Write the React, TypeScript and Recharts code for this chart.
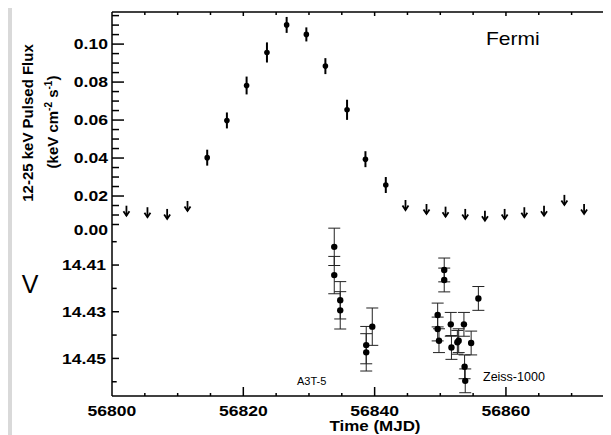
import React from 'react';
import { ScatterChart, Scatter, XAxis, YAxis, ErrorBar } from 'recharts';

// ---- Fermi 12-25 keV pulsed flux ----
const fermiDetMjd = [56814.5, 56817.5, 56820.5, 56823.6, 56826.6, 56829.6, 56832.5, 56835.8, 56838.6, 56841.7];
const fermiDetFlux = [0.0402, 0.0598, 0.0782, 0.0956, 0.1101, 0.1051, 0.0884, 0.0654, 0.0394, 0.0258];
const fermiDetErr = [0.0042, 0.0042, 0.0047, 0.0053, 0.0042, 0.0037, 0.0042, 0.0053, 0.0042, 0.0042];

const fermiUlMjd = [56802.2, 56805.4, 56808.4, 56811.5, 56844.7, 56847.9, 56850.8, 56853.8, 56856.8, 56859.8, 56862.8, 56865.8, 56868.9, 56871.9];
const fermiUlFlux = [0.0149, 0.0141, 0.0132, 0.0174, 0.0179, 0.0158, 0.0144, 0.0132, 0.0123, 0.0132, 0.0141, 0.0149, 0.0206, 0.0158];

// ---- Optical V magnitudes ----
const a3tMjd = [56833.85, 56833.85, 56834.76, 56834.76, 56838.72, 56838.72, 56839.64];
const a3tMag = [14.4022, 14.4143, 14.4251, 14.4294, 14.4443, 14.4474, 14.4364];
const a3tErr = [0.008, 0.008, 0.008, 0.008, 0.008, 0.008, 0.008];

const zeissMjd = [56849.6, 56849.6, 56849.8, 56850.6, 56850.6, 56851.6, 56851.7, 56852.6, 56852.8, 56853.6, 56853.7, 56853.8, 56854.7, 56855.8];
const zeissMag = [14.4314, 14.4374, 14.4424, 14.4121, 14.4164, 14.4354, 14.4453, 14.4431, 14.4424, 14.4354, 14.4536, 14.4596, 14.4434, 14.4243];
const zeissErr = [0.0051, 0.0051, 0.0051, 0.0051, 0.0051, 0.0051, 0.0051, 0.0051, 0.0051, 0.0051, 0.0051, 0.0051, 0.0051, 0.0051];

// ---- ticks ----
const timeTicks = [56800, 56805, 56810, 56815, 56820, 56825, 56830, 56835, 56840, 56845, 56850, 56855, 56860, 56865, 56870, 56875];
const fluxTicks = [0, 0.005, 0.01, 0.015, 0.02, 0.025, 0.03, 0.035, 0.04, 0.045, 0.05, 0.055, 0.06, 0.065, 0.07, 0.075, 0.08, 0.085, 0.09, 0.095, 0.1, 0.105, 0.11, 0.115];
const magTicks = [14.40, 14.41, 14.42, 14.43, 14.44, 14.45, 14.46];

const X_DOMAIN: [number, number] = [56800, 56876];
const FLUX_DOMAIN: [number, number] = [0, 0.1169];
const MAG_DOMAIN: [number, number] = [14.3967, 14.4661];

const FONT = '"Liberation Sans", Arial, Helvetica, sans-serif';
const SX = 1.17;

const fermiDet = fermiDetMjd.map((x, i) => ({ x, y: fermiDetFlux[i], err: fermiDetErr[i] }));
const fermiUl = fermiUlMjd.map((x, i) => ({ x, y: fermiUlFlux[i] }));
const a3t = a3tMjd.map((x, i) => ({ x, y: a3tMag[i], err: a3tErr[i] }));
const zeiss = zeissMjd.map((x, i) => ({ x, y: zeissMag[i], err: zeissErr[i] }));

const isFluxMajor = (v: number) => Math.abs(v * 50 - Math.round(v * 50)) < 1e-6;
const isMagMajor = (v: number) => Math.round(v * 100) % 2 === 1;
const isTimeMajor = (v: number) => (v - 56800) % 20 === 0;

const FluxLeftTick = (p: any) => {
  const { x, y, payload } = p;
  const v = payload.value;
  const major = isFluxMajor(v);
  return (
    <g>
      {v > 0 && <line x1={x} x2={x + (major ? 12 : 7)} y1={y} y2={y} stroke="#000" strokeWidth={1.5} />}
      {major && (
        <text transform={`translate(${x - 4},${y + (v === 0 ? 1 : 5.3)}) scale(${SX},1)`} textAnchor="end"
          fontFamily={FONT} fontWeight="bold" fontSize={15} fill="#000">{v.toFixed(2)}</text>
      )}
    </g>
  );
};

const FluxRightTick = (p: any) => {
  const { x, y, payload } = p;
  const v = payload.value;
  if (v <= 0) return <g />;
  const major = isFluxMajor(v);
  return <line x1={x} x2={x - (major ? 12 : 5)} y1={y} y2={y} stroke="#000" strokeWidth={1.5} />;
};

const MagLeftTick = (p: any) => {
  const { x, y, payload } = p;
  const v = payload.value;
  const major = isMagMajor(v);
  return (
    <g>
      <line x1={x} x2={x + (major ? 7 : 4.7)} y1={y} y2={y} stroke="#000" strokeWidth={1.5} />
      {major && (
        <text transform={`translate(${x - 6},${y + 5.3}) scale(${SX},1)`} textAnchor="end"
          fontFamily={FONT} fontWeight="bold" fontSize={15} fill="#000">{v.toFixed(2)}</text>
      )}
    </g>
  );
};

const MagRightTick = (p: any) => {
  const { x, y } = p;
  return <line x1={x} x2={x - 5} y1={y} y2={y} stroke="#000" strokeWidth={1.5} />;
};

const TopTimeTick = (p: any) => {
  const { x, y, payload } = p;
  const v = payload.value;
  if (v === 56800) return <g />;
  return <line x1={x} x2={x} y1={y} y2={y + (isTimeMajor(v) ? 4 : 3)} stroke="#000" strokeWidth={1.5} />;
};

const BottomTimeTick = (p: any) => {
  const { x, y, payload } = p;
  const v = payload.value;
  const major = isTimeMajor(v);
  return (
    <g>
      {v !== 56800 && <line x1={x} x2={x} y1={y} y2={y - (major ? 9 : 3)} stroke="#000" strokeWidth={1.5} />}
      {major && (
        <text transform={`translate(${x},${y + 20}) scale(${SX},1)`} textAnchor="middle"
          fontFamily={FONT} fontWeight="bold" fontSize={15} fill="#000">{v}</text>
      )}
    </g>
  );
};

const FluxDot = (p: any) => <circle cx={p.cx} cy={p.cy} r={2.8} fill="#000" />;
const MagDot = (p: any) => <circle cx={p.cx} cy={p.cy} r={3.2} fill="#000" />;
const ArrowShape = (p: any) => {
  const { cx, cy } = p;
  return (
    <g stroke="#000" strokeWidth={1.8} fill="none">
      <line x1={cx} y1={cy} x2={cx} y2={cy + 10} />
      <polyline points={`${cx - 3},${cy + 5.5} ${cx},${cy + 10} ${cx + 3},${cy + 5.5}`} />
    </g>
  );
};

const axisLine = { stroke: '#000', strokeWidth: 1.5 };

export default function App() {
  return (
    <div style={{ position: 'relative', width: 611, height: 435, marginLeft: -8, marginTop: -8, overflow: 'hidden', background: '#d9d9d9' }}>
      <div style={{ position: 'absolute', left: 12, top: 5, right: 0, bottom: 0, background: '#fff' }} />
      <div style={{ position: 'absolute', left: 0, top: 0 }}>
        <ScatterChart width={611} height={435} margin={{ top: 0, right: 0, bottom: 201, left: 0 }}>
          <XAxis xAxisId="t" orientation="top" type="number" dataKey="x" domain={X_DOMAIN} allowDataOverflow
            ticks={timeTicks} interval={0} height={12} tickSize={0} tickMargin={0} tickLine={false}
            axisLine={axisLine} tick={TopTimeTick} />
          <YAxis yAxisId="l" type="number" dataKey="y" domain={FLUX_DOMAIN} allowDataOverflow
            ticks={fluxTicks} interval={0} width={112} tickSize={0} tickMargin={0} tickLine={false}
            axisLine={axisLine} tick={FluxLeftTick} />
          <YAxis yAxisId="r" orientation="right" type="number" dataKey="y" domain={FLUX_DOMAIN} allowDataOverflow
            ticks={fluxTicks} interval={0} width={0} tickSize={0} tickMargin={0} tickLine={false}
            axisLine={false} tick={FluxRightTick} />
          <Scatter xAxisId="t" yAxisId="l" data={fermiDet} shape={FluxDot} isAnimationActive={false}>
            <ErrorBar dataKey="err" direction="y" width={0} strokeWidth={2} stroke="#000" />
          </Scatter>
          <Scatter xAxisId="t" yAxisId="l" data={fermiUl} shape={ArrowShape} isAnimationActive={false} />
        </ScatterChart>
      </div>
      <div style={{ position: 'absolute', left: 0, top: 0 }}>
        <ScatterChart width={611} height={435} margin={{ top: 234, right: 0, bottom: 0, left: 0 }}>
          <XAxis xAxisId="b" orientation="bottom" type="number" dataKey="x" domain={X_DOMAIN} allowDataOverflow
            ticks={timeTicks} interval={0} height={39} tickSize={0} tickMargin={0} tickLine={false}
            axisLine={axisLine} tick={BottomTimeTick} />
          <YAxis yAxisId="l" type="number" dataKey="y" domain={MAG_DOMAIN} reversed allowDataOverflow
            ticks={magTicks} interval={0} width={112} tickSize={0} tickMargin={0} tickLine={false}
            axisLine={axisLine} tick={MagLeftTick} />
          <YAxis yAxisId="r" orientation="right" type="number" dataKey="y" domain={MAG_DOMAIN} reversed allowDataOverflow
            ticks={magTicks} interval={0} width={0} tickSize={0} tickMargin={0} tickLine={false}
            axisLine={false} tick={MagRightTick} />
          <Scatter xAxisId="b" yAxisId="l" data={a3t} shape={MagDot} isAnimationActive={false}>
            <ErrorBar dataKey="err" direction="y" width={6} strokeWidth={1} stroke="#222" />
          </Scatter>
          <Scatter xAxisId="b" yAxisId="l" data={zeiss} shape={MagDot} isAnimationActive={false}>
            <ErrorBar dataKey="err" direction="y" width={6} strokeWidth={1} stroke="#222" />
          </Scatter>
        </ScatterChart>
      </div>
      <svg width={611} height={435} style={{ position: 'absolute', left: 0, top: 0, pointerEvents: 'none' }}>
        <g fontFamily={FONT} fill="#000">
          <text transform="translate(33,123) rotate(-90)" textAnchor="middle" fontWeight="bold" fontSize={15}>12-25 keV Pulsed Flux</text>
          <text transform="translate(58,122) rotate(-90)" textAnchor="middle" fontWeight="bold" fontSize={15}>
            (keV cm<tspan fontSize={10} dy={-6}>-2</tspan><tspan dy={6}> s</tspan><tspan fontSize={10} dy={-6}>-1</tspan><tspan dy={6}>)</tspan>
          </text>
          <text x={30} y={293} textAnchor="middle" fontSize={25}>V</text>
          <text transform={`translate(375,431) scale(${SX},1)`} textAnchor="middle" fontWeight="bold" fontSize={14.5}>Time (MJD)</text>
          <text transform={`translate(486,45) scale(${SX},1)`} fontSize={18}>Fermi</text>
          <text x={297} y={385} fontSize={11}>A3T-5</text>
          <text x={483} y={381} fontSize={12.5}>Zeiss-1000</text>
        </g>
      </svg>
    </div>
  );
}
